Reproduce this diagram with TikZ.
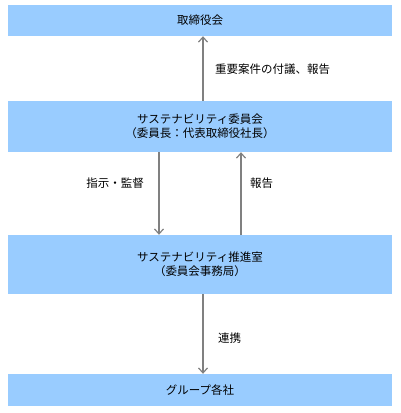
\documentclass[tikz,border=0pt]{standalone}
\usepackage{fontspec}
\setmainfont{Noto Sans CJK JP}
\usetikzlibrary{arrows.meta}
\definecolor{boxblue}{HTML}{99CCFF}
\definecolor{arrowgray}{HTML}{808080}
\tikzset{
  orgbox/.style={fill=boxblue, draw=none, minimum width=384pt, inner sep=0pt, align=center,
    font=\fontsize{11.5pt}{14pt}\selectfont},
  flow/.style={arrowgray, line width=1.3pt, -{Straight Barb[length=5pt,width=9pt,line width=1.2pt]}},
  lbl/.style={inner sep=0pt, font=\fontsize{11.5pt}{14pt}\selectfont}
}
\begin{document}
\begin{tikzpicture}[x=1pt,y=-1pt]
\useasboundingbox (0,0) rectangle (400,413);
%%% the four bodies, top to bottom
\node[orgbox, minimum height=31pt] (board) at (200, 20.5) {取締役会};
\node[orgbox, minimum height=51pt] (committee) at (200, 126.5) {サステナビリティ委員会\\（委員長：代表取締役社長）};
\node[orgbox, minimum height=59pt] (office) at (200, 264.5) {サステナビリティ推進室\\（委員会事務局）};
\node[orgbox, minimum height=32pt] (group) at (200, 390) {グループ各社};
%%% connectors between them
\draw[flow] ([xshift=3pt]committee.north) -- ([xshift=3pt]board.south);
\draw[flow] ([xshift=-41pt]committee.south) -- ([xshift=-41pt]office.north);
\draw[flow] ([xshift=41pt]office.north) -- ([xshift=41pt]committee.south);
\draw[flow] ([xshift=3pt]office.south) -- ([xshift=3pt]group.north);
%%% labels beside the arrows
\node[lbl, anchor=west] (agenda) at (215, 69) {重要案件の付議、報告};
\node[lbl, anchor=east] (direct) at (144, 183) {指示・監督};
\node[lbl, anchor=west] (report) at (250, 183) {報告};
\node[lbl, anchor=west] (link) at (218, 338) {連携};
\end{tikzpicture}
\end{document}
